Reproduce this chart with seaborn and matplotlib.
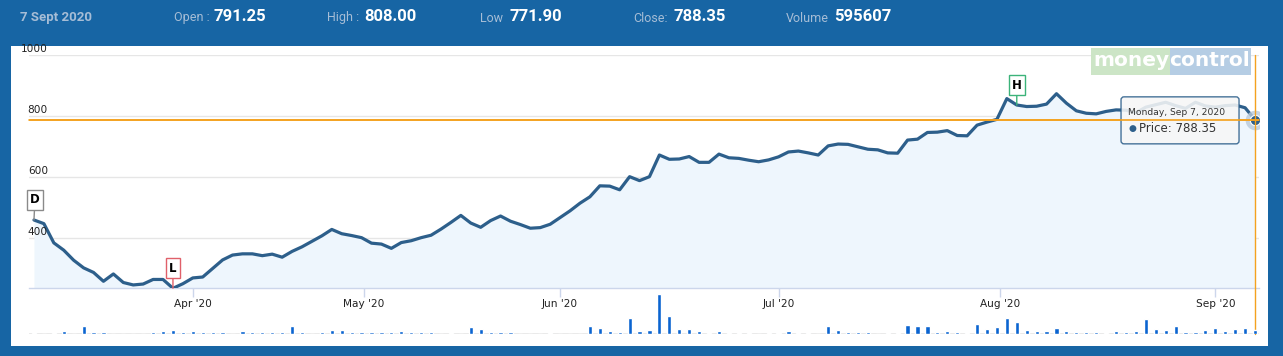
import numpy as np
import pandas as pd
import matplotlib
matplotlib.use("Agg")
import matplotlib.pyplot as plt
import seaborn as sns
from matplotlib.patches import Rectangle, FancyBboxPatch
from matplotlib import transforms

# ---------------- data ----------------
holidays = ["2020-03-10", "2020-04-02", "2020-04-06", "2020-04-10",
            "2020-04-14", "2020-05-01", "2020-05-25"]
start_date, end_date = "2020-03-09", "2020-09-07"

price = [460, 448, 385, 361, 328, 303, 288, 259, 283, 255,
         247, 250, 265, 265, 236, 251, 270, 273, 301, 329,
         345, 349, 349, 343, 348, 338, 357, 372, 390, 408,
         429, 415, 409, 402, 384, 381, 367, 386, 392, 402,
         410, 430, 452, 475, 450, 436, 458, 473, 456, 445,
         433, 435, 446, 468, 490, 515, 536, 572, 571, 559,
         602, 589, 602, 673, 659, 660, 668, 649, 649, 676,
         664, 662, 656, 651, 657, 667, 683, 686, 680, 673,
         703, 709, 708, 700, 692, 690, 680, 679, 722, 725,
         747, 748, 753, 737, 736, 771, 781, 790, 858, 837,
         832, 833, 840, 874, 843, 818, 810, 808, 816, 821,
         820, 812, 830, 838, 846, 835, 826, 846, 834, 830,
         835, 837, 828, 788.35]

volume_k = [200, 0, 200, 450, 0, 1240, 250, 250, 0, 0,
            0, 0, 250, 450, 600, 300, 450, 250, 250, 250,
            0, 450, 250, 250, 250, 250, 1240, 350, 0, 350,
            600, 600, 300, 250, 250, 250, 250, 450, 300, 300,
            300, 0, 200, 0, 1040, 740, 350, 300, 250, 0,
            0, 0, 150, 0, 0, 0, 1190, 890, 450, 350,
            2380, 450, 600, 5950, 2680, 740, 740, 450, 200, 450,
            200, 200, 200, 0, 200, 200, 450, 200, 200, 0,
            1190, 600, 300, 250, 250, 0, 150, 150, 1340, 1190,
            1190, 350, 450, 300, 200, 1490, 740, 1040, 2380, 1790,
            600, 450, 450, 890, 450, 300, 300, 300, 200, 450,
            300, 450, 2230, 740, 600, 1190, 300, 300, 600, 890,
            450, 740, 890, 596]

month_starts = ["2020-04-01", "2020-05-01", "2020-06-01",
                "2020-07-01", "2020-08-01", "2020-09-01"]
month_labels = ["Apr '20", "May '20", "Jun '20", "Jul '20", "Aug '20", "Sep '20"]
y_ticks = [400, 600, 800, 1000]

header_date = "7 Sept 2020"
header_labels = ["Open :", "High :", "Low", "Close:", "Volume"]
header_values = ["791.25", "808.00", "771.90", "788.35", "595607"]
tooltip_date = "Monday, Sep 7, 2020"
tooltip_label = "Price: 788.35"
close_price = 788.35
flag_d_index = 0
flag_h_index = 99

# ---------------- setup ----------------
dates = pd.bdate_range(start_date, end_date)
dates = dates[~dates.isin(pd.to_datetime(holidays))]
assert len(dates) == len(price) == len(volume_k)
idx = np.arange(len(price))
df = pd.DataFrame({"i": idx, "price": price, "volume": np.array(volume_k) * 1000})

sns.set_theme(style="white")
plt.rcParams["font.family"] = ["DejaVu Sans"]

W, H = 1283, 356
FRAME = "#1765a4"
LINE = "#2d5f8b"
ORANGE = "#f4a21f"
BAR = "#0b64d0"
AXISC = "#ccd6eb"
GRID = "#e6e6e6"

fig = plt.figure(figsize=(W / 100, H / 100), dpi=100)
fig.patch.set_facecolor(FRAME)
fig.add_artist(Rectangle((11 / W, 1 - 346 / H), (1268 - 11) / W, (346 - 46) / H,
                         transform=fig.transFigure, facecolor="white",
                         edgecolor="none", zorder=-5))

axp = fig.add_axes([29 / W, 1 - 288.3 / H, 1230 / W, 233 / H])
axv = fig.add_axes([29 / W, 1 - 334 / H, 1230 / W, 40 / H])
for a in (axp, axv):
    a.patch.set_alpha(0)
    for s in a.spines.values():
        s.set_visible(False)

xmin, xmax = -0.5, len(price) - 0.6
ymin = min(price)

# price area + line
axp.fill_between(df["i"], df["price"], ymin, color="#eef6fd", zorder=1, lw=0)
sns.lineplot(data=df, x="i", y="price", ax=axp, color=LINE, linewidth=2.3,
             zorder=3, solid_joinstyle="round", solid_capstyle="round")
axp.set_xlim(xmin, xmax)
axp.set_ylim(ymin, 1000)
axp.set_xlabel("")
axp.set_ylabel("")

for yv in y_ticks:
    axp.axhline(yv, color=GRID, lw=1, zorder=0.5)
    tr = transforms.offset_copy(axp.get_yaxis_transform(), fig=fig, x=0, y=3, units="dots")
    axp.text(19 / 1230, yv, str(yv), transform=tr, ha="right", va="baseline",
             fontsize=7.6, color="#222222", zorder=6, clip_on=False)
axp.set_yticks([])

# x ticks from dates (ordinal axis)
dnum = dates.values.astype("int64")
tick_pos = [np.interp(pd.Timestamp(m).value, dnum, idx) for m in month_starts]
axp.set_xticks(tick_pos)
axp.set_xticklabels(month_labels, fontsize=7.6, color="#222222")
axp.tick_params(axis="x", direction="out", length=6.5, width=1, color=AXISC,
                pad=1.5, bottom=True)
axp.spines["bottom"].set_visible(True)
axp.spines["bottom"].set_color(AXISC)
axp.spines["bottom"].set_linewidth(1)

# close price line & crosshair
axp.axhline(close_price, color=ORANGE, lw=1.2, zorder=8)
last_i, last_p = idx[-1], price[-1]
axp.axvline(last_i, ymin=-0.197, ymax=1, color=ORANGE, lw=1, zorder=8, clip_on=False)

# last point marker
axp.scatter([last_i], [last_p], s=200, color="#b9cadb", alpha=0.8, zorder=6, lw=0)
axp.scatter([last_i], [last_p], s=55, color=LINE, edgecolor="white", lw=0.8, zorder=7)

# flags
low_i = int(np.argmin(price))
flags = [(flag_d_index, "D", "#8a8a8a"), (low_i, "L", "#e0606a"), (flag_h_index, "H", "#3cb37a")]
for fi, lab, ec in flags:
    axp.annotate(lab, xy=(fi, price[fi]), xytext=(1 if lab == "D" else 0, 20),
                 textcoords="offset pixels", ha="center", va="center",
                 fontsize=8.5, fontweight="bold", color="black", zorder=9,
                 bbox=dict(boxstyle="square,pad=0.28", fc="white", ec=ec, lw=1),
                 arrowprops=dict(arrowstyle="-", color=ec, lw=1, shrinkA=0, shrinkB=0),
                 annotation_clip=False)

# volume bars
sns.barplot(data=df, x="i", y="volume", ax=axv, color=BAR, width=0.42,
            saturation=1, native_scale=True, zorder=2)
axv.set_xlim(xmin, xmax)
axv.set_ylim(0, max(df["volume"]))
axv.axhline(0, color=GRID, lw=1.2, zorder=1)
axv.set_xticks([])
axv.set_yticks([])
axv.set_xlabel("")
axv.set_ylabel("")

# tooltip (positioned relative to last point, in pixels)
fig.canvas.draw()
px, py = axp.transData.transform((last_i, last_p))
tip = FancyBboxPatch((px - 134, py - 24), 118, 47,
                     boxstyle="round,pad=0,rounding_size=3",
                     facecolor="#f7f7f7", alpha=0.88, edgecolor=LINE, lw=1,
                     transform=None, zorder=20)
fig.add_artist(tip)
fig.text(px - 127, py + 7, tooltip_date, transform=None, fontsize=6.6,
         color="#333333", ha="left", va="center", zorder=21)
fig.text(px - 127, py - 9, "●", transform=None, fontsize=6.5,
         color=LINE, ha="left", va="center", zorder=21)
fig.text(px - 116, py - 9, tooltip_label, transform=None, fontsize=8.5,
         color="#333333", ha="left", va="center", zorder=21)
# redraw orange crosshair over tooltip
fig.add_artist(plt.Line2D([29, 1259], [py, py], transform=None,
                          color=ORANGE, lw=1.2, zorder=22))

# logo
lx0, ly0, lh = 1091, 48, 27
fig.add_artist(Rectangle((lx0 / W, 1 - (ly0 + lh) / H), 79 / W, lh / H,
                         transform=fig.transFigure, fc="#cce5c6", ec="none", zorder=2))
fig.add_artist(Rectangle(((lx0 + 79) / W, 1 - (ly0 + lh) / H), 81 / W, lh / H,
                         transform=fig.transFigure, fc="#b5cde4", ec="none", zorder=2))
fig.text((lx0 + 40) / W, 1 - (ly0 + 13) / H, "money", fontsize=14.5, fontweight="bold",
         color="white", ha="center", va="center", zorder=3)
fig.text((lx0 + 119) / W, 1 - (ly0 + 13) / H, "control", fontsize=14.5, fontweight="bold",
         color="white", ha="center", va="center", zorder=3)

# header
hy = 1 - 18 / H
LBL = "#a6bdd6"
fig.text(20 / W, hy, header_date, fontsize=9.5, fontweight="bold", color=LBL,
         family=["Roboto", "DejaVu Sans"], ha="left", va="center")
label_x = [174, 327, 480, 633, 786]
value_x = [214, 364, 509, 673, 834]
for lab, val, lxp, vxp in zip(header_labels, header_values, label_x, value_x):
    fig.text(lxp / W, hy, lab, fontsize=9, color=LBL, family=["Roboto", "DejaVu Sans"],
             ha="left", va="center")
    fig.text(vxp / W, hy + 0.004, val, fontsize=12, fontweight="bold", color="white",
             family=["Roboto", "DejaVu Sans"], ha="left", va="center")

fig.savefig("out.png", dpi=100, facecolor=FRAME)
